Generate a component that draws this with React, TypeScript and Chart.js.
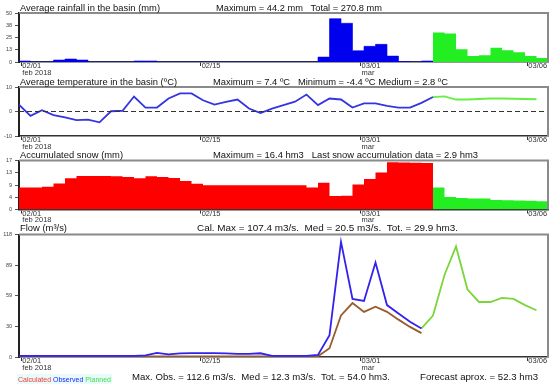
import { useEffect, useRef } from "react";
import { Chart, registerables } from "chart.js";

Chart.register(...registerables);

const W = 550;
const H = 386;
const PLOT_LEFT = 19;
const PLOT_RIGHT = 548;
const X_AXIS_H = 14;
const FONT = '"Liberation Sans", Arial, Helvetica, sans-serif';

// x axis: one step per daily interval
const X_MIN = 0;
const X_MAX = 46;
const dateTickPositions = [0.2, 15.8, 29.7, 44.2];
const dateTickLabels = [["02/01", "feb 2018"], ["02/15"], ["03/01", "mar"], ["03/06"]];

// Rainfall (mm)
const rainTicks = [0, 12.5, 25, 37.5, 50];
const rainTickLabels = ["0", "13", "25", "38", "50"];
const rainObs = [1, 0, 0, 2, 3, 2, 0, 0, 0, 0, 1, 1, 0, 0, 0, 0, 0, 0, 0, 0, 0, 0, 0, 0, 0, 0,
  5, 44.2, 39.5, 11.5, 16, 18, 6, 0.5, 0, 1];
const rainPlan = [30, 29, 13, 6, 7, 14.5, 12, 10, 6, 4];

// Temperature (ºC)
const tempTicks = [-10, 0, 10];
const tempTickLabels = ["-10", "0", "10"];
const tempObs = [2.8, -1.8, 0.5, -1.5, -2.4, -3.5, -3.3, -4.4, 0.1, 0.3, 6.1, 1.6, 1.6, 5.3, 7.4, 7.4,
  4.6, 2.8, 3.9, 4.9, 1.2, -0.6, 1.2, 2.6, 4.0, 6.9, 2.6, 5.3, 4.9, 1.6, 3.3, 3.3, 2.3, 1.6, 1.6, 3.5, 5.9];
const tempPlan = [5.9, 6.2, 4.9, 4.9, 5.1, 5.3, 5.3, 5.2, 5.1, 5.0];
const tempZero = [0, 0];

// Accumulated snow
const snowTicks = [0, 4.25, 8.5, 12.75, 17];
const snowTickLabels = ["0", "4", "9", "13", "17"];
const snowObs = [7.6, 7.6, 7.9, 9.0, 10.8, 11.6, 11.6, 11.6, 11.5, 11.3, 10.8, 11.5, 11.3, 10.9, 9.9, 8.9,
  8.4, 8.4, 8.4, 8.4, 8.4, 8.4, 8.4, 8.4, 8.4, 7.6, 9.3, 4.7, 4.8, 8.7, 10.6, 12.8, 16.4, 16.3, 16.2, 16.1];
const snowPlan = [7.6, 4.3, 4.0, 3.8, 3.8, 3.3, 3.2, 3.1, 3.0, 2.9];

// Flow (m3/s)
const flowTicks = [0, 29.5, 59, 88.5, 118];
const flowTickLabels = ["0", "30", "59", "89", "118"];
const flowObs = [1, 1, 1, 1, 1, 1, 1, 1, 1, 1, 1, 1.5, 3.9, 2.5, 3.5, 3.8, 3.8, 3.8, 3.5, 3, 3, 3.6,
  1, 1, 1, 1, 2, 21, 111, 56, 54, 91, 50, 42, 34, 27.5];
const flowCalc = [0.5, 0.5, 0.5, 0.5, 0.5, 0.5, 0.5, 0.5, 0.5, 0.5, 0.5, 0.5, 0.5, 0.5, 0.5, 0.5, 0.5, 0.5,
  0.5, 0.5, 0.5, 0.5, 0.5, 0.5, 0.5, 0.5, 0.7, 8.4, 40, 52, 43.5, 48.5, 43.5, 36, 29, 23];
const flowPlan = [27.5, 40, 79, 106.5, 65, 53, 53, 57, 56, 50, 45];

const BLUE = "#0000ee";
const GREEN = "#22ee22";
const RED = "#ff0000";

function pts(values: number[], start: number) {
  return values.map((v, i) => ({ x: start + i, y: v }));
}
function steps(values: number[], start: number) {
  const p = pts(values, start);
  p.push({ x: start + values.length, y: values[values.length - 1] });
  return p;
}

// text with start x, end x (for width fitting) and baseline y
type TextItem = { t: string; x: number; x2: number; y: number };

function textPlugin(texts: TextItem[], legend?: boolean) {
  return {
    id: "panelText",
    afterDraw(chart: any) {
      const ctx = chart.ctx;
      ctx.save();
      ctx.textBaseline = "alphabetic";
      ctx.textAlign = "left";
      ctx.font = `9.5px ${FONT}`;
      ctx.fillStyle = "#111";
      for (const it of texts) {
        const w = ctx.measureText(it.t).width;
        const sx = (it.x2 - it.x) / w;
        ctx.save();
        ctx.translate(it.x, it.y);
        ctx.scale(sx, 1);
        ctx.fillText(it.t, 0, 0);
        ctx.restore();
      }
      if (legend) {
        ctx.fillStyle = "#e8fbfb";
        ctx.fillRect(17, 374, 95, 10);
        ctx.font = `7px ${FONT}`;
        let x = 18;
        const items: [string, string][] = [["Calculated", "#ff3333"], ["Observed", "#2222ff"], ["Planned", "#44dd44"]];
        for (const [s, c] of items) {
          ctx.fillStyle = c;
          ctx.fillText(s, x, 382);
          x += ctx.measureText(s + " ").width;
        }
      }
      ctx.restore();
    },
  };
}

const framePlugin = {
  id: "frame",
  afterDatasetsDraw(chart: any) {
    const { ctx, chartArea } = chart;
    ctx.save();
    ctx.strokeStyle = "#8a8a8a";
    ctx.lineWidth = 2;
    ctx.beginPath();
    ctx.moveTo(chartArea.left, chartArea.top);
    ctx.lineTo(chartArea.right, chartArea.top);
    ctx.lineTo(chartArea.right, chartArea.bottom);
    ctx.stroke();
    ctx.restore();
  },
};

function panelConfig(p: {
  top: number; bottom: number; yMin: number; yMax: number;
  yTicks: number[]; yTickLabels: string[]; datasets: any[]; texts: TextItem[]; legend?: boolean;
}) {
  return {
    type: "line",
    data: { datasets: p.datasets },
    options: {
      responsive: false,
      animation: false,
      events: [],
      layout: { padding: { top: p.top, bottom: H - p.bottom - X_AXIS_H, left: 0, right: W - PLOT_RIGHT } },
      plugins: { legend: { display: false }, tooltip: { enabled: false }, title: { display: false } },
      elements: { point: { radius: 0 }, line: { tension: 0 } },
      scales: {
        x: {
          type: "linear",
          min: X_MIN,
          max: X_MAX,
          z: 1,
          afterBuildTicks: (s: any) => { s.ticks = dateTickPositions.map((v) => ({ value: v })); },
          afterFit: (s: any) => { s.height = X_AXIS_H; s.paddingLeft = 0; s.paddingRight = 0; },
          ticks: {
            autoSkip: false, maxRotation: 0, align: "start", padding: -3, labelOffset: 1,
            font: { size: 7.5, family: FONT, lineHeight: 0.85 }, color: "#333",
            callback: (_v: any, i: number) => dateTickLabels[i],
          },
          grid: { drawOnChartArea: false, drawTicks: true, tickLength: 4, color: "#333", lineWidth: 1 },
          border: { display: true, color: "#333", width: 1.5 },
        },
        y: {
          type: "linear",
          min: p.yMin,
          max: p.yMax,
          z: 1,
          afterBuildTicks: (s: any) => { s.ticks = p.yTicks.map((v) => ({ value: v })); },
          afterFit: (s: any) => { s.width = PLOT_LEFT; s.paddingTop = 0; s.paddingBottom = 0; },
          ticks: {
            autoSkip: false, padding: 3, font: { size: 5.5, family: FONT }, color: "#444",
            callback: (_v: any, i: number) => p.yTickLabels[i],
          },
          grid: { drawOnChartArea: false, drawTicks: true, tickLength: 4, color: "#555" },
          border: { display: true, color: "#222", width: 2 },
        },
      },
    },
    plugins: [framePlugin, textPlugin(p.texts, p.legend)],
  };
}

function buildConfigs() {
  const rain = panelConfig({
    top: 13, bottom: 62, yMin: 0, yMax: 50, yTicks: rainTicks, yTickLabels: rainTickLabels,
    datasets: [
      { data: steps(rainObs, 0), stepped: true, fill: "origin", backgroundColor: BLUE, borderColor: BLUE, borderWidth: 0.6 },
      { data: steps(rainPlan, rainObs.length), stepped: true, fill: "origin", backgroundColor: GREEN, borderColor: GREEN, borderWidth: 0 },
    ],
    texts: [
      { t: "Average rainfall in the basin (mm)", x: 20, x2: 160, y: 10.5 },
      { t: "Maximum = 44.2 mm   Total = 270.8 mm", x: 216, x2: 382, y: 10.5 },
    ],
  });
  const temp = panelConfig({
    top: 87, bottom: 136, yMin: -10, yMax: 10, yTicks: tempTicks, yTickLabels: tempTickLabels,
    datasets: [
      { data: [{ x: X_MIN, y: tempZero[0] }, { x: X_MAX, y: tempZero[1] }], borderColor: "#333", borderWidth: 1, borderDash: [5, 3] },
      { data: pts(tempObs, 0), borderColor: "#3535e0", borderWidth: 1.8 },
      { data: pts(tempPlan, 36), borderColor: "#66ee44", borderWidth: 1.8 },
    ],
    texts: [
      { t: "Average temperature in the basin (ºC)", x: 20, x2: 177, y: 84.5 },
      { t: "Maximum = 7.4 ºC   Minimum = -4.4 ºC Medium = 2.8 ºC", x: 213, x2: 448, y: 84.5 },
    ],
  });
  const snow = panelConfig({
    top: 160.5, bottom: 209.5, yMin: 0, yMax: 17, yTicks: snowTicks, yTickLabels: snowTickLabels,
    datasets: [
      { data: steps(snowObs, 0), stepped: true, fill: "origin", backgroundColor: RED, borderColor: RED, borderWidth: 0 },
      { data: steps(snowPlan, snowObs.length), stepped: true, fill: "origin", backgroundColor: GREEN, borderColor: GREEN, borderWidth: 0 },
    ],
    texts: [
      { t: "Accumulated snow (mm)", x: 20, x2: 123, y: 158 },
      { t: "Maximum = 16.4 hm3   Last snow accumulation data = 2.9 hm3", x: 213, x2: 478, y: 158 },
    ],
  });
  const flow = panelConfig({
    top: 234.5, bottom: 357, yMin: 0, yMax: 118, yTicks: flowTicks, yTickLabels: flowTickLabels,
    datasets: [
      { data: pts(flowObs, 0), borderColor: "#3322ee", borderWidth: 1.8, order: 0 },
      { data: pts(flowCalc, 0), borderColor: "#9a5a2a", borderWidth: 1.8, order: 1 },
      { data: pts(flowPlan, 35), borderColor: "#7ad63a", borderWidth: 1.8, order: 2 },
    ],
    texts: [
      { t: "Flow (m³/s)", x: 20, x2: 67, y: 231 },
      { t: "Cal. Max = 107.4 m3/s.  Med = 20.5 m3/s.  Tot. = 29.9 hm3.", x: 197, x2: 458, y: 231 },
      { t: "Max. Obs. = 112.6 m3/s.  Med = 12.3 m3/s.  Tot. = 54.0 hm3.", x: 132, x2: 390, y: 380 },
      { t: "Forecast aprox. = 52.3 hm3", x: 420, x2: 538, y: 380 },
    ],
    legend: true,
  });
  return [rain, temp, snow, flow];
}

export default function App() {
  const refs = [useRef<HTMLCanvasElement>(null), useRef<HTMLCanvasElement>(null), useRef<HTMLCanvasElement>(null), useRef<HTMLCanvasElement>(null)];
  useEffect(() => {
    const configs = buildConfigs();
    const charts = configs.map((cfg, i) => new Chart(refs[i].current as HTMLCanvasElement, cfg as any));
    return () => charts.forEach((c) => c.destroy());
  }, []);
  return (
    <div style={{ position: "absolute", left: 0, top: 0, width: W, height: H, background: "#fff" }}>
      {refs.map((r, i) => (
        <canvas key={i} ref={r} width={W} height={H} style={{ position: "absolute", left: 0, top: 0, width: W, height: H }} />
      ))}
    </div>
  );
}
